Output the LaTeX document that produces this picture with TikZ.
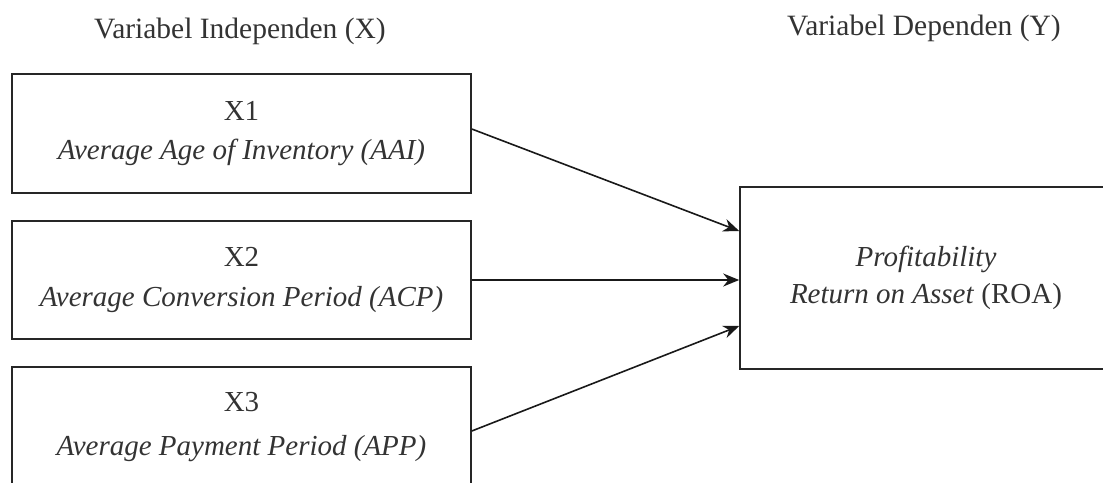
\documentclass[tikz,border=0pt]{standalone}
\usepackage{fontspec}
\setmainfont{Liberation Serif}
\usetikzlibrary{arrows.meta,calc}
\begin{document}
\begin{tikzpicture}[x=1pt,y=-1pt,
  varbox/.style={draw=black!85, line width=1.6pt, rectangle, inner sep=0pt,
    align=center, text=black!80, font=\fontsize{29}{39}\selectfont},
  hdr/.style={anchor=base, text=black!80, font=\fontsize{29.5}{34}\selectfont},
  link/.style={draw=black!90, line width=1.6pt, -{Stealth[length=16pt,width=13pt]}}]
\useasboundingbox (0,0) rectangle (1103,482);
\clip (0,0) rectangle (1103,482);

\node[hdr] (hx) at (240,38) {Variabel Independen (X)};
\node[hdr] (hy) at (924,35) {Variabel Dependen (Y)};

\node[varbox, minimum width=459pt, minimum height=119pt] (x1) at (241.5,133.5)
  {X1\\ \textit{Average Age of Inventory (AAI)}};
\node[varbox, minimum width=459pt, minimum height=118pt] (x2) at (241.5,280)
  {X2\\[1pt] \textit{Average Conversion Period (ACP)}};
\node[varbox, minimum width=459pt, minimum height=120pt] (x3) at (241.5,427)
  {X3\\[5pt] \textit{Average Payment Period (APP)}};

\node[varbox, minimum width=372pt, minimum height=182pt,
  font=\fontsize{29}{37}\selectfont] (roa) at (926,278)
  {\textit{Profitability}\\ \textit{Return on Asset} (ROA)};

\coordinate (s1) at ($(x1.east)+(0,-4.5)$);
\coordinate (s3) at ($(x3.east)+(0,4)$);
\coordinate (t1) at ($(roa.west)+(0,-47)$);
\coordinate (t3) at ($(roa.west)+(0,48)$);

\draw[link] (s1) -- (t1);
\draw[link] (x2.east) -- (x2.east -| roa.west);
\draw[link] (s3) -- (t3);
\end{tikzpicture}
\end{document}
